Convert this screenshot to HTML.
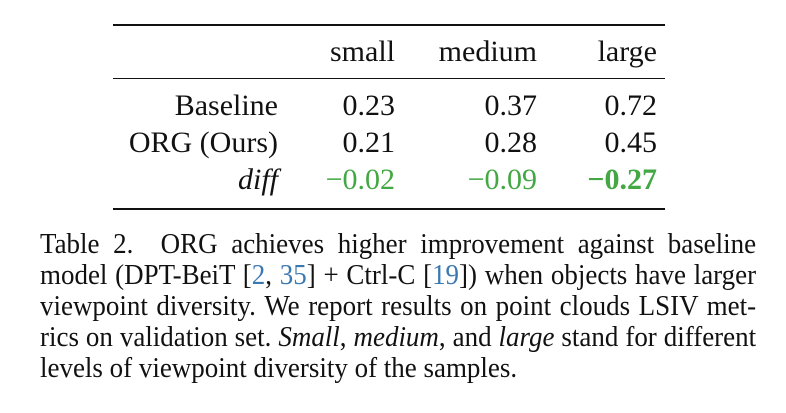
<!DOCTYPE html>
<html><head><meta charset="utf-8"><style>
body{margin:0;width:786px;height:413px;background:#fff;position:relative;overflow:hidden;font-family:"Liberation Serif","Times New Roman",serif;color:#111}
.t{position:absolute;font-size:30px;line-height:30px;white-space:nowrap;text-align:right}
.r{position:absolute;left:113px;width:552px;background:#111}
.g{color:#43a843}
.cl{position:absolute;left:40px;width:770px;font-size:29px;line-height:31px;white-space:nowrap;text-align:justify;text-align-last:justify;transform:scaleX(0.93);transform-origin:0 0}
.b{color:#3a78b0}
</style></head><body>
<div class="r" style="top:24px;height:2px"></div>
<div class="r" style="top:78px;height:1px"></div>
<div class="r" style="top:208px;height:2px"></div>

<div class="t" style="right:391px;top:37px">small</div>
<div class="t" style="right:249px;top:37px">medium</div>
<div class="t" style="right:129px;top:37px">large</div>

<div class="t" style="right:508px;top:91px">Baseline</div>
<div class="t" style="right:391px;top:91px">0.23</div>
<div class="t" style="right:249px;top:91px">0.37</div>
<div class="t" style="right:129px;top:91px">0.72</div>

<div class="t" style="right:508px;top:128px">ORG (Ours)</div>
<div class="t" style="right:391px;top:128px">0.21</div>
<div class="t" style="right:249px;top:128px">0.28</div>
<div class="t" style="right:129px;top:128px">0.45</div>

<div class="t" style="right:508px;top:165px;font-style:italic">diff</div>
<div class="t g" style="right:391px;top:165px">−0.02</div>
<div class="t g" style="right:249px;top:165px">−0.09</div>
<div class="t g" style="right:129px;top:165px;font-weight:bold">−0.27</div>

<div class="cl" style="top:229px">Table 2.&nbsp; ORG achieves higher improvement against baseline</div>
<div class="cl" style="top:260px">model (DPT-BeiT [<span class="b">2</span>, <span class="b">35</span>] + Ctrl-C [<span class="b">19</span>]) when objects have larger</div>
<div class="cl" style="top:291px">viewpoint diversity.&nbsp;We report results on point clouds LSIV met-</div>
<div class="cl" style="top:322px">rics on validation set. <i>Small</i>, <i>medium</i>, and <i>large</i> stand for different</div>
<div class="cl" style="top:353px;text-align-last:left">levels of viewpoint diversity of the samples.</div>
</body></html>
